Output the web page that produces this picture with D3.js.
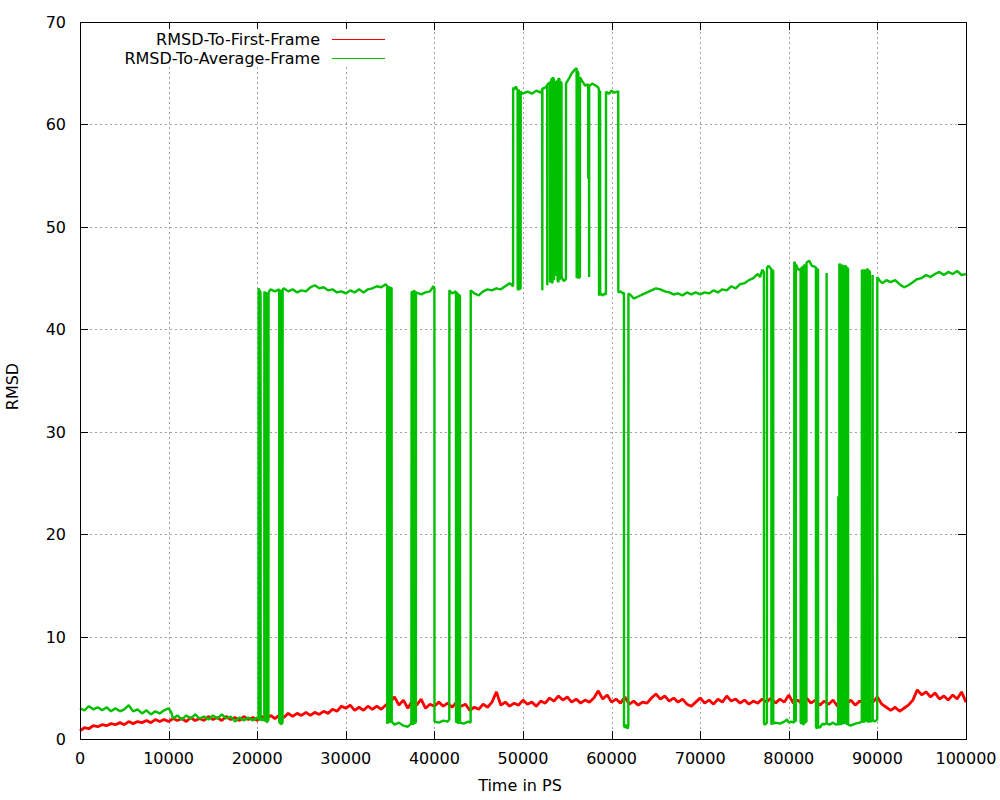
<!DOCTYPE html>
<html>
<head>
<meta charset="utf-8">
<script src="https://cdn.jsdelivr.net/npm/d3@7"></script>
<style>
  html, body { margin: 0; padding: 0; background: #fff; }
  svg text { font-family: "DejaVu Sans", sans-serif; fill: #000; }
</style>
</head>
<body>
<svg id="chart" width="1000" height="800"></svg>
<script>
// ---------------- data ----------------
const xTicks = [0, 10000, 20000, 30000, 40000, 50000, 60000, 70000, 80000, 90000, 100000];
const yTicks = [0, 10, 20, 30, 40, 50, 60, 70];
const seriesNames = ["RMSD-To-First-Frame", "RMSD-To-Average-Frame"];
const seriesColors = ["#ff0000", "#00c000"];

// RMSD to first frame, one value every 500 ps from 0 to 100000
const firstFrameStep = 500;
const firstFrame = [
  0.8,1.1,1.0,1.3,1.2,1.4,1.3,1.5,1.4,1.6,1.4,1.7,1.5,1.7,1.6,1.8,1.6,1.9,1.7,1.9,
  1.7,2.0,1.8,2.0,1.7,2.1,1.8,2.0,1.8,2.2,1.9,2.1,1.8,2.2,1.9,2.1,1.8,2.2,1.9,2.1,
  1.8,2.2,1.9,2.3,2.0,2.3,2.1,2.5,2.2,2.5,2.3,2.6,2.3,2.6,2.4,2.7,2.5,2.9,2.7,3.2,
  3.0,3.3,2.8,3.1,2.8,3.2,2.9,3.2,2.9,3.3,3.6,4.1,3.3,3.8,3.0,3.7,3.3,3.9,3.0,3.4,
  3.2,3.6,3.2,3.5,3.1,3.6,3.2,3.4,2.8,3.1,2.9,3.4,3.1,3.6,4.6,3.3,3.6,3.2,3.5,3.3,
  3.8,3.4,3.6,3.2,3.7,3.5,4.0,3.7,4.2,3.8,4.1,3.6,3.9,3.5,3.8,3.6,4.0,4.7,3.9,4.3,
  3.6,3.9,3.5,4.1,3.4,3.7,3.3,3.6,3.5,4.0,4.4,3.9,4.2,3.7,4.0,3.6,3.9,3.4,3.2,3.6,
  4.0,3.5,3.8,3.4,3.9,3.6,4.2,3.7,3.9,3.5,3.8,3.4,3.7,3.5,3.9,3.6,4.0,3.5,3.9,3.6,
  4.3,3.5,3.8,3.4,4.0,3.5,3.8,3.3,3.7,3.4,3.8,3.2,3.7,3.4,3.8,3.3,3.7,3.5,3.9,3.6,
  4.1,3.4,3.1,2.8,3.1,2.7,3.0,3.3,3.8,4.8,4.3,4.6,4.1,4.5,3.9,4.2,3.8,4.3,3.9,4.6,
  3.6
];

// RMSD to average frame: [time in ps, rmsd]
const averageFrame = [
  [0,3.0],[500,2.8],[1000,3.2],[1500,2.9],[2000,3.1],[2500,2.8],[3000,3.1],[3500,2.7],[4000,3.0],[4500,2.7],
  [5000,2.9],[5500,3.3],[6000,2.7],[6500,2.9],[7000,2.5],[7500,2.8],[8000,2.4],[8500,2.7],[9000,2.5],[9500,2.8],
  [10000,3.0],[10300,2.6],[10500,2.0],[11000,2.3],[11500,1.9],[12000,2.3],[12500,2.0],[13000,2.4],[13500,2.0],[14000,2.2],
  [14500,1.9],[15000,2.3],[15500,2.0],[16000,2.4],[16500,2.0],[17000,2.2],[17500,1.7],[18000,2.1],[18500,1.8],[19000,2.1],
  [19500,1.8],[20000,2.1],
  [20150,2.0],[20160,44.0],[20250,43.6],[20260,1.9],[20300,1.8],[20310,43.8],[20380,43.5],[20390,2.0],[20600,1.8],
  [20800,2.1],[20810,43.7],[20880,43.5],[20890,1.7],[20950,1.9],[20960,43.6],[21060,43.4],[21070,1.6],[21270,1.9],[21280,43.6],
  [21500,43.9],[22000,43.7],[22480,43.9],[22490,1.7],[22580,1.5],[22590,43.8],[22680,43.7],[22690,1.4],[22860,1.6],[22870,43.9],
  [23000,44.0],[23500,43.7],[24000,43.9],[24500,43.6],[25000,43.8],[25500,43.7],[26000,44.1],[26500,44.3],[27000,44.0],[27500,44.1],
  [28000,43.8],[28500,43.9],[29000,43.6],[29500,43.7],[30000,43.5],[30500,43.8],[31000,43.6],[31500,43.9],[32000,43.6],[32500,43.9],
  [33000,44.0],[33500,44.2],[34000,44.1],[34500,44.4],
  [34670,44.2],[34680,1.5],[34790,1.7],[34800,44.0],[34890,44.2],[34900,1.6],[35090,1.8],[35100,44.1],[35170,44.0],[35180,1.7],
  [35500,1.4],[36000,1.6],[36500,1.3],[37000,1.2],[37400,1.5],
  [37430,43.7],[37550,43.5],[37560,1.4],[37680,1.6],[37690,43.8],[37800,43.6],[37810,1.5],[37910,1.7],[37920,43.6],
  [38500,43.4],[39000,43.6],[39500,43.7],[39900,44.2],[40000,44.0],[40010,1.7],[40500,1.6],[41000,1.8],[41500,1.7],
  [41680,1.9],[41690,43.8],[42000,43.5],[42400,43.7],
  [42440,43.4],[42450,1.6],[42560,1.8],[42570,43.6],[42660,43.3],[42670,1.5],[42780,1.7],[42790,43.4],[42880,43.2],[42890,1.6],
  [43300,1.5],[43800,1.7],[44090,1.6],[44100,43.8],
  [44500,43.5],[45000,43.3],[45500,43.7],[46000,43.9],[46500,43.8],[47000,44.0],[47500,43.9],[48000,44.2],[48500,44.5],
  [48880,44.2],[48890,63.6],[49000,63.4],[49200,63.7],[49390,63.3],[49400,44.0],[49480,43.8],[49490,63.4],[49570,63.2],
  [49580,43.9],[49730,44.0],[49740,63.2],
  [50000,63.0],[50500,63.2],[51000,63.0],[51500,63.3],[52000,63.1],
  [52170,63.4],[52180,43.8],[52190,63.5],[52500,63.6],[52730,63.8],[52740,44.3],[52750,63.9],
  [53040,64.1],[53050,44.6],[53150,44.8],[53160,64.3],[53250,64.5],[53260,44.5],[53350,44.7],[53360,64.6],[53490,64.4],
  [53500,44.8],[53510,64.2],[53690,64.1],[53700,45.2],[53710,63.9],
  [53890,64.3],[53900,44.8],[54000,44.6],[54010,64.5],[54120,64.4],[54130,44.9],[54240,45.0],[54250,64.2],[54350,64.0],
  [54360,45.1],[54600,44.7],[54850,44.9],[54860,64.0],
  [55200,64.5],[55500,65.0],[55800,65.3],
  [56050,65.5],[56060,45.0],[56150,45.2],[56160,65.2],[56250,65.0],[56260,45.0],[56420,45.1],[56430,64.6],
  [56700,64.2],[57000,63.8],[57360,63.9],[57370,54.7],[57380,63.9],[57450,63.8],[57460,45.1],[57470,63.7],
  [57800,64.0],[58200,63.8],[58500,63.6],
  [58570,63.4],[58580,43.4],[58640,43.3],[58650,63.2],[58700,63.3],[58710,43.5],[59000,43.3],[59200,43.5],[59360,43.4],[59370,63.2],
  [59700,63.0],[60000,63.3],[60300,63.1],[60700,63.2],[60750,63.3],[60760,43.6],[61000,43.7],[61300,43.5],
  [61390,43.6],[61400,1.3],[61500,1.1],[61600,1.4],[61700,1.2],[61800,1.0],[61890,1.3],[61900,43.5],
  [62200,43.3],[62500,43.0],[63000,43.2],[63500,43.4],[64000,43.6],[64500,43.8],[65000,44.0],[65500,43.9],[66000,43.7],[66500,43.6],
  [67000,43.4],[67500,43.5],[68000,43.3],[68500,43.6],[69000,43.4],[69500,43.6],[70000,43.4],[70500,43.6],[71000,43.5],[71500,43.8],
  [72000,43.6],[72500,43.9],[73000,43.8],[73500,44.2],[74000,44.0],[74500,44.4],[75000,44.5],[75500,44.8],[76000,45.0],[76500,45.4],
  [76750,45.1],[77000,45.8],
  [77190,45.6],[77200,1.5],[77300,1.4],[77530,1.6],[77540,46.0],[77700,46.2],[78000,45.9],[78030,45.8],[78040,1.4],[78120,1.6],
  [78130,45.8],[78240,45.7],[78250,1.5],[78500,1.6],[79000,1.5],[79500,1.7],[79800,1.9],[80000,1.6],[80300,1.7],
  [80610,1.6],[80620,46.6],[80700,46.4],[80710,1.8],[80790,1.7],[80800,46.3],[80880,46.2],[81000,45.9],[81200,45.8],
  [81330,45.9],[81340,1.6],[81440,1.5],[81450,46.0],[81540,46.1],[81550,1.5],[81700,1.4],[81710,46.2],[81820,46.3],[81830,1.6],
  [81990,1.7],[82000,46.5],[82300,46.7],[82600,46.2],[83000,46.1],
  [83060,46.0],[83070,1.2],[83180,1.0],[83190,45.9],[83300,45.8],[83310,1.2],[83510,1.1],[83800,1.5],[84000,1.4],
  [84260,1.6],[84270,45.5],[84280,1.5],[84600,1.4],[85000,1.6],[85300,1.4],
  [85580,1.5],[85590,23.7],[85600,1.4],[85700,1.5],[85710,46.4],[85850,46.2],[85860,1.4],[85990,1.5],[86000,46.3],[86150,46.0],
  [86160,1.6],[86300,1.5],[86310,46.2],[86500,46.1],[86510,1.6],[86600,1.4],[86610,46.0],[86690,45.9],[86700,1.4],
  [87000,1.3],[87500,1.5],[88000,1.6],
  [88240,1.7],[88250,45.8],[88400,45.7],[88410,1.6],[88480,1.7],[88490,45.8],[88680,45.6],[88690,1.8],[88820,1.7],[88830,45.9],
  [88960,45.8],[88970,1.6],[89050,1.8],[89060,45.7],[89160,45.6],[89170,1.7],[89450,1.8],[89460,45.3],[89470,1.9],[89700,1.7],
  [89980,1.9],[89990,45.1],
  [90300,44.7],[90600,44.5],[91000,44.8],[91500,44.6],[92000,44.8],[92500,44.4],[93000,44.1],[93500,44.3],[94000,44.6],[94500,44.9],
  [95000,45.0],[95500,45.3],[96000,45.1],[96500,45.4],[97000,45.6],[97500,45.3],[98000,45.6],[98500,45.4],[99000,45.7],[99500,45.3],
  [100000,45.4]
];

// ---------------- drawing ----------------
const svg = d3.select("#chart");
const mLeft = 80, mRight = 966, mTop = 22, mBottom = 739;
const fontSize = 16;

const x = d3.scaleLinear().domain([0, 100000]).range([mLeft, mRight]);
const y = d3.scaleLinear().domain([0, 70]).range([mBottom, mTop]);

// grid
const grid = svg.append("g").attr("stroke", "#a0a0a0").attr("stroke-width", 1)
  .attr("stroke-dasharray", "2,3").attr("shape-rendering", "crispEdges");
grid.selectAll(".gx").data(xTicks.slice(1, -1)).join("line")
  .attr("x1", d => Math.round(x(d)) + 0.5).attr("x2", d => Math.round(x(d)) + 0.5)
  .attr("y1", mTop).attr("y2", mBottom);
grid.selectAll(".gy").data(yTicks.slice(1, -1)).join("line")
  .attr("y1", d => Math.round(y(d)) + 0.5).attr("y2", d => Math.round(y(d)) + 0.5)
  .attr("x1", mLeft).attr("x2", mRight);

// data lines
const plot = svg.append("g");
const lineFirst = d3.line().x((d, i) => x(i * firstFrameStep)).y(d => y(d));
const lineAvg = d3.line().x(d => x(d[0])).y(d => y(d[1]));

plot.append("path").datum(firstFrame).attr("d", lineFirst)
  .attr("fill", "none").attr("stroke", seriesColors[0]).attr("stroke-width", 2.8)
  .attr("stroke-linejoin", "bevel");
plot.append("path").datum(averageFrame).attr("d", lineAvg)
  .attr("fill", "none").attr("stroke", seriesColors[1]).attr("stroke-width", 2.4)
  .attr("stroke-linejoin", "bevel");

// axes (ticks inward, mirrored)
const tickLen = 8;
const axG = svg.append("g").attr("stroke", "#000").attr("stroke-width", 1).attr("shape-rendering", "crispEdges");
xTicks.forEach(t => {
  const px = Math.round(x(t)) + 0.5;
  axG.append("line").attr("x1", px).attr("x2", px).attr("y1", mBottom).attr("y2", mBottom - tickLen);
  axG.append("line").attr("x1", px).attr("x2", px).attr("y1", mTop).attr("y2", mTop + tickLen);
});
yTicks.forEach(t => {
  const py = Math.round(y(t)) + 0.5;
  axG.append("line").attr("x1", mLeft).attr("x2", mLeft + tickLen).attr("y1", py).attr("y2", py);
  axG.append("line").attr("x1", mRight).attr("x2", mRight - tickLen).attr("y1", py).attr("y2", py);
});
axG.append("rect").attr("x", mLeft + 0.5).attr("y", mTop + 0.5)
  .attr("width", mRight - mLeft).attr("height", mBottom - mTop).attr("fill", "none");

// tick labels
svg.append("g").selectAll("text").data(xTicks).join("text")
  .attr("x", d => x(d)).attr("y", 764).attr("text-anchor", "middle")
  .attr("font-size", fontSize).text(d => d);
svg.append("g").selectAll("text").data(yTicks).join("text")
  .attr("x", 66).attr("y", d => y(d) + 6).attr("text-anchor", "end")
  .attr("font-size", fontSize).text(d => d);

// axis titles
svg.append("text").attr("x", (mLeft + mRight) / 2 - 3).attr("y", 791).attr("text-anchor", "middle")
  .attr("font-size", fontSize).text("Time in PS");
svg.append("text").attr("transform", "translate(18," + ((mTop + mBottom) / 2 + 6) + ") rotate(-90)")
  .attr("text-anchor", "middle").attr("font-size", fontSize).text("RMSD");

// legend
const legend = svg.append("g");
legend.append("rect").attr("x", 118).attr("y", 29).attr("width", 276).attr("height", 38).attr("fill", "#fff");
seriesNames.forEach((name, i) => {
  const ly = 39 + i * 19;
  legend.append("text").attr("x", 320).attr("y", ly + 6).attr("text-anchor", "end")
    .attr("font-size", fontSize).text(name);
  legend.append("line").attr("x1", 332).attr("x2", 385).attr("y1", ly + 0.5).attr("y2", ly + 0.5)
    .attr("stroke", seriesColors[i]).attr("stroke-width", 1);
});
</script>
</body>
</html>
